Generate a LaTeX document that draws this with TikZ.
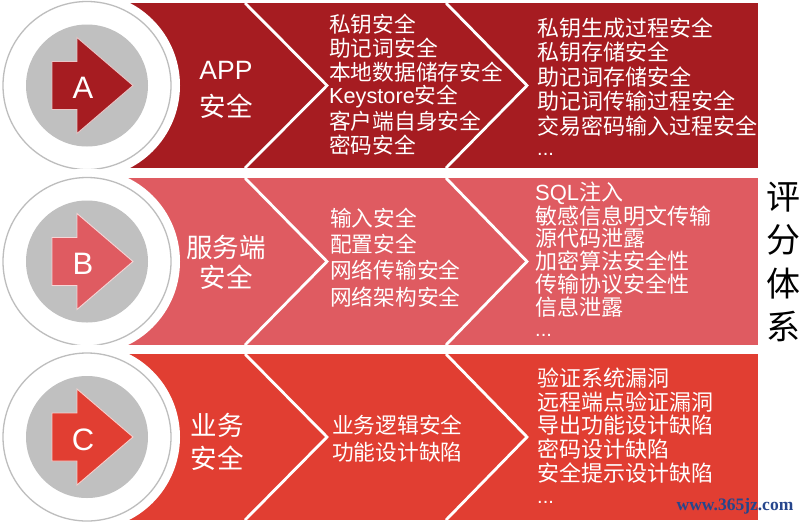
\documentclass[tikz,border=0pt]{standalone}
\usepackage{fontspec}
\setmainfont{Noto Sans CJK SC}
\newfontfamily\lat{Liberation Sans}
\newfontfamily\wmfont{Liberation Serif}
\definecolor{rowA}{HTML}{A61C21}
\definecolor{rowB}{HTML}{DF5B61}
\definecolor{rowC}{HTML}{E13E32}
\definecolor{ringgray}{HTML}{BDBDBD}
\definecolor{discgray}{HTML}{C0C0C0}
\definecolor{wmblue}{HTML}{26468C}
\newcommand\ks{{\lat Keystore}}
\newcommand\sq{{\lat SQL}}
\newcommand\dd{{\lat ...}}
\newcommand\drawband[3]{% top, bottom, colour
  \pgfmathsetmacro\mid{(#1+#2)/2}
  \fill[#3] (87,#1) rectangle (758,#2);
  \draw[sepline] (245,#1) -- (327,\mid) -- (245,#2);
  \draw[sepline] (446,#1) -- (527,\mid) -- (446,#2);
}
\newcommand\drawbadge[4]{% top, bottom, colour, letter
  \pgfmathsetmacro\mid{(#1+#2)/2}
  \fill[white] (87,\mid) circle[radius=93];
  \draw[ringgray, line width=1.3pt, fill=white] (87,\mid) circle[radius=84];
  \fill[discgray] (87,\mid) circle[radius=61];
  \begin{scope}[shift={(87,\mid)}]
    \filldraw[fill=#3, draw=white!75!#3, line width=0.9pt]
      (-35,-24) -- (-10,-24) -- (-10,-48) -- (46,0) -- (-10,48) -- (-10,24) -- (-35,24) -- cycle;
    \node[letter] (badge#4) at (-4,2.5) {#4};
  \end{scope}
}
\newcommand\itemlines[5]{% name, x, first y, step, list
  \foreach \t [count=\i] in {#5} {
    \node[lst] (#1\i) at (#2, {#3+(\i-1)*#4}) {\t};
  }
}
\begin{document}
\begin{tikzpicture}[x=1pt,y=-1pt,
  sepline/.style={draw=white, line width=2.8pt, line join=miter},
  lst/.style={text=white, inner sep=0pt, anchor=west},
  lbl/.style={text=white, inner sep=0pt, font=\fontsize{26.5}{30}\selectfont},
  letter/.style={text=white, inner sep=0pt, font=\lat\fontsize{31}{31}\selectfont},
  dots/.style={text=white, inner sep=0pt, anchor=west, font=\lat\fontsize{20}{20}\selectfont},
]
\useasboundingbox (0,0) rectangle (800,523);

\drawband{3}{168}{rowA}
\drawband{178}{345}{rowB}
\drawband{354}{520}{rowC}

\drawbadge{3}{168}{rowA}{A}
\drawbadge{178}{345}{rowB}{B}
\drawbadge{354}{520}{rowC}{C}

% section labels
\node[lbl] (la1) at (226,70) {\lat APP};
\node[lbl] (la2) at (226,106) {安全};
\node[lbl] (lb1) at (226,247) {服务端};
\node[lbl] (lb2) at (226,277) {安全};
\node[lbl] (lc1) at (217,425) {业务};
\node[lbl] (lc2) at (217,458) {安全};

% lists
\begin{scope}[lst/.append style={font=\fontsize{21.7}{24}\selectfont}]
\itemlines{am}{329}{24}{24.2}{私钥安全,助记词安全,本地数据储存安全,\ks{}安全,客户端自身安全,密码安全}
\itemlines{bm}{330}{218}{26.3}{输入安全,配置安全,网络传输安全,网络架构安全}
\itemlines{cm}{332}{425}{27}{业务逻辑安全,功能设计缺陷}
\end{scope}
\begin{scope}[lst/.append style={font=\fontsize{22}{24}\selectfont}]
\itemlines{ar}{537}{28}{24.4}{私钥生成过程安全,私钥存储安全,助记词存储安全,助记词传输过程安全,交易密码输入过程安全}
\itemlines{br}{535}{193}{22.8}{\sq{}注入,敏感信息明文传输,源代码泄露,加密算法安全性,传输协议安全性,信息泄露}
\itemlines{cr}{537}{378}{23.8}{验证系统漏洞,远程端点验证漏洞,导出功能设计缺陷,密码设计缺陷,安全提示设计缺陷}
\end{scope}
\node[dots] (ardots) at (537,154) {...};
\node[dots] (brdots) at (535,335) {...};
\node[dots] (crdots) at (537,502) {...};

% side title
\node[inner sep=0pt, align=center, text=black, font=\fontsize{34}{43.3}\selectfont] (title) at (783,262) {评\\分\\体\\系};

% watermark
\node[inner sep=0pt, text=wmblue, font=\wmfont\bfseries\fontsize{17.5}{17.5}\selectfont] (wm) at (735,506) {www.365jz.com};
\end{tikzpicture}
\end{document}
